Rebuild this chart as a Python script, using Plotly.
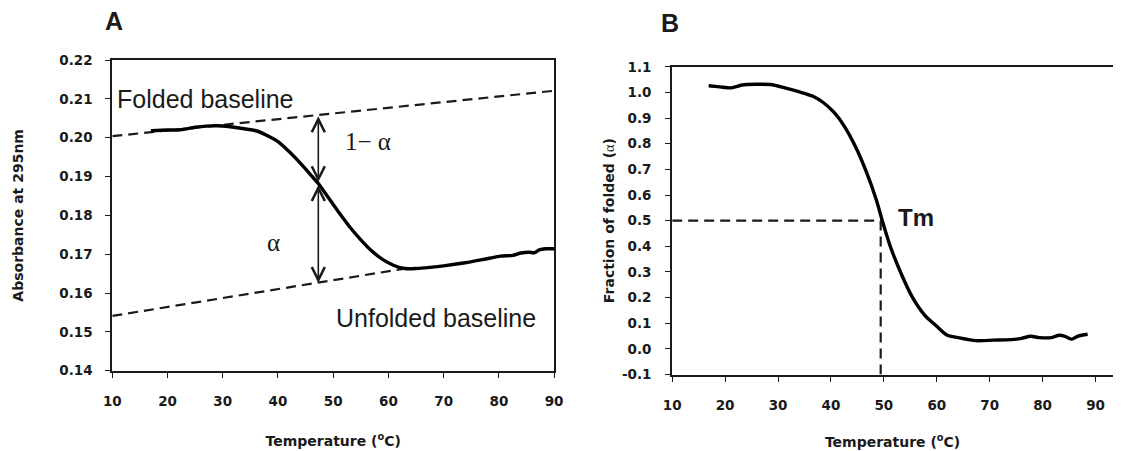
import plotly.graph_objects as go

# ---------------- data ----------------
# Panel A: absorbance melting curve
temp_a = [17, 20, 22, 25, 27, 29, 31, 33, 36, 38.3, 40, 42.1, 44, 46, 47.3, 49, 51, 53, 55, 57,
          59, 61, 63, 65, 67.5, 70, 73.9, 77, 80.3, 82.5, 84, 85.4, 86.5, 87.3, 88.5, 90]
abs_a = [0.2018, 0.2020, 0.2020, 0.2027, 0.2030, 0.2031, 0.2029, 0.2025, 0.2018, 0.2004, 0.1990,
         0.1963, 0.1935, 0.1903, 0.1882, 0.1848, 0.1808, 0.1770, 0.1737, 0.1708,
         0.1686, 0.1671, 0.1663, 0.1663, 0.1666, 0.1670, 0.1678, 0.1686, 0.1695, 0.1697,
         0.1703, 0.1705, 0.1704, 0.1711, 0.1714, 0.1714]

folded_base_x = [10, 90]
folded_base_y = [0.2004, 0.2121]
unfolded_base_x = [10, 63]
unfolded_base_y = [0.1541, 0.1663]

arrow_x = 47.3
arrow_top = 0.2055
arrow_mid = 0.1882
arrow_bottom = 0.1626

# Panel B: fraction folded
temp_b = [16.9, 19, 21.2, 23.2, 25.9, 28.6, 31.3, 33.9, 36.6, 38.6, 40.6, 42.6, 44.6, 46.6, 48.6,
          49.7, 51.3, 53.3, 55.3, 57.7, 60.0, 62.0, 64.0, 67.4, 70.7, 74.0, 76.0, 77.7, 79.4,
          81.7, 83.1, 84.1, 85.4, 86.7, 88.5]
frac_b = [1.026, 1.022, 1.018, 1.029, 1.032, 1.031, 1.018, 1.003, 0.985, 0.960, 0.922, 0.866,
          0.790, 0.695, 0.580, 0.500, 0.395, 0.292, 0.205, 0.132, 0.088, 0.053, 0.044, 0.032,
          0.034, 0.036, 0.041, 0.049, 0.044, 0.044, 0.053, 0.050, 0.038, 0.050, 0.057]

tm_x = 49.4
tm_y = 0.5

x_ticks = [10, 20, 30, 40, 50, 60, 70, 80, 90]
x_ticktext = ["10", "20", "30", "40", "50", "60", "70", "80", "90"]
ya_ticks = [0.14, 0.15, 0.16, 0.17, 0.18, 0.19, 0.20, 0.21, 0.22]
ya_ticktext = ["0.14", "0.15", "0.16", "0.17", "0.18", "0.19", "0.20", "0.21", "0.22"]
yb_ticks = [-0.1, 0.0, 0.1, 0.2, 0.3, 0.4, 0.5, 0.6, 0.7, 0.8, 0.9, 1.0, 1.1]
yb_ticktext = ["-0.1", "0.0", "0.1", "0.2", "0.3", "0.4", "0.5", "0.6", "0.7", "0.8", "0.9", "1.0", "1.1"]

# ---------------- figure ----------------
W, H = 1122, 451
INK = "#1a1a1a"
TICKFONT = dict(family="DejaVu Sans", size=13.5, color=INK, weight="bold")
TITLEFONT = dict(family="DejaVu Sans", size=14, color=INK, weight="bold")
DASH = dict(color=INK, width=2.2, dash="10px,6px")

fig = go.Figure()

# Panel A
fig.add_trace(go.Scatter(x=folded_base_x, y=folded_base_y, mode="lines", line=DASH,
                         xaxis="x", yaxis="y", showlegend=False, hoverinfo="skip"))
fig.add_trace(go.Scatter(x=unfolded_base_x, y=unfolded_base_y, mode="lines", line=DASH,
                         xaxis="x", yaxis="y", showlegend=False, hoverinfo="skip"))
fig.add_trace(go.Scatter(x=temp_a, y=abs_a, mode="lines",
                         line=dict(color="black", width=3.4, shape="spline", smoothing=0.7),
                         xaxis="x", yaxis="y", showlegend=False))

# Panel B
fig.add_trace(go.Scatter(x=[10, tm_x + 0.3], y=[tm_y, tm_y], mode="lines", line=DASH,
                         xaxis="x2", yaxis="y2", showlegend=False, hoverinfo="skip"))
fig.add_trace(go.Scatter(x=[tm_x, tm_x], y=[-0.1, tm_y], mode="lines", line=DASH,
                         xaxis="x2", yaxis="y2", showlegend=False, hoverinfo="skip"))
fig.add_trace(go.Scatter(x=temp_b, y=frac_b, mode="lines",
                         line=dict(color="black", width=3.4, shape="spline", smoothing=0.7),
                         xaxis="x2", yaxis="y2", showlegend=False))

axA_x0, axA_x1 = 105 / W, 554 / W
axA_y0, axA_y1 = 1 - 376 / H, 1 - 54 / H
axB_x0, axB_x1 = 674 / W, 1.0
axB_y0, axB_y1 = 1 - 380 / H, 1 - 61 / H

common_axis = dict(showgrid=False, zeroline=False, showline=True, linecolor=INK, linewidth=2,
                   ticks="outside", ticklen=5, tickwidth=1.3, tickcolor=INK, tickfont=TICKFONT)

fig.update_layout(
    width=W, height=H, margin=dict(l=0, r=0, t=0, b=0),
    paper_bgcolor="white", plot_bgcolor="white",
    xaxis=dict(domain=[axA_x0, axA_x1], range=[10, 90], anchor="y", mirror=True,
               tickvals=x_ticks, ticktext=x_ticktext, ticklabelstandoff=12,
               title=dict(text="Temperature (<sup>o</sup>C)", font=TITLEFONT, standoff=28),
               **common_axis),
    yaxis=dict(domain=[axA_y0, axA_y1], range=[0.14, 0.22], anchor="x", mirror=True,
               tickvals=ya_ticks, ticktext=ya_ticktext, ticklabelstandoff=10,
               title=dict(text="Absorbance at 295nm", font=TITLEFONT, standoff=32),
               **common_axis),
    xaxis2=dict(domain=[axB_x0, axB_x1], range=[10, 93.3], anchor="y2", mirror=True,
                tickvals=x_ticks, ticktext=x_ticktext, ticklabelstandoff=12,
                title=dict(text="Temperature (<sup>o</sup>C)", font=TITLEFONT, standoff=25),
                **common_axis),
    yaxis2=dict(domain=[axB_y0, axB_y1], range=[-0.1, 1.1], anchor="x2",
                tickvals=yb_ticks, ticktext=yb_ticktext, ticklabelstandoff=11,
                title=dict(text="Fraction of folded (<span style='font-family:Liberation Serif;font-weight:normal'>α</span>)",
                           font=TITLEFONT, standoff=4),
                **common_axis),
)

ann = []
# panel letters
ann.append(dict(text="<b>A</b>", x=107 / W, y=1 - 13 / H, xref="paper", yref="paper", showarrow=False,
                font=dict(family="Liberation Sans", size=25, color=INK), xanchor="center", yanchor="middle"))
ann.append(dict(text="<b>B</b>", x=672 / W, y=1 - 16 / H, xref="paper", yref="paper", showarrow=False,
                font=dict(family="Liberation Sans", size=25, color=INK), xanchor="center", yanchor="middle"))
# labels panel A
ann.append(dict(text="Folded baseline", x=26.8, y=0.2100, xref="x", yref="y", showarrow=False,
                font=dict(family="Liberation Sans", size=25, color=INK)))
ann.append(dict(text="Unfolded baseline", x=68.6, y=0.1535, xref="x", yref="y", showarrow=False,
                font=dict(family="Liberation Sans", size=25, color=INK)))
ann.append(dict(text="1− α", x=56.3, y=0.1990, xref="x", yref="y", showarrow=False,
                font=dict(family="Liberation Serif", size=25, color=INK)))
ann.append(dict(text="α", x=39.2, y=0.1730, xref="x", yref="y", showarrow=False,
                font=dict(family="Liberation Serif", size=25, color=INK)))
# arrows
for y_head, y_tail in [(arrow_top, arrow_mid), (arrow_bottom, arrow_mid)]:
    ann.append(dict(text="", x=arrow_x, y=y_head, ax=arrow_x, ay=y_tail, xref="x", yref="y",
                    axref="x", ayref="y", showarrow=True, arrowhead=5, startarrowhead=5,
                    arrowside="end+start", arrowsize=1.6, startarrowsize=1.6, arrowwidth=1.6,
                    arrowcolor=INK, standoff=0, startstandoff=0))
# Tm label
ann.append(dict(text="<b>Tm</b>", x=56.0, y=0.514, xref="x2", yref="y2", showarrow=False,
                font=dict(family="Liberation Sans", size=24, color=INK)))
fig.update_layout(annotations=ann)

fig.write_html("out.html")
